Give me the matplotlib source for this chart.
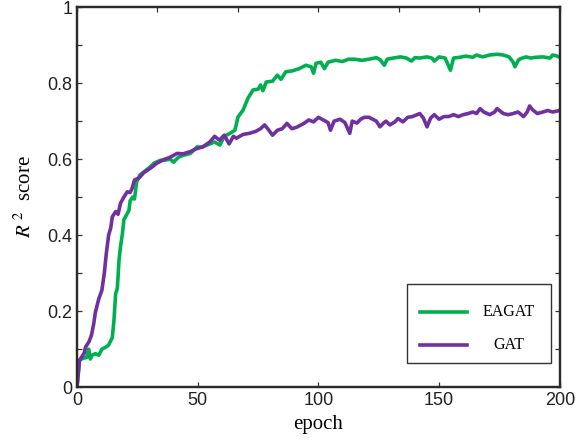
import numpy as np
import matplotlib
matplotlib.use('Agg')
import matplotlib.pyplot as plt
from matplotlib.patches import Rectangle
from matplotlib.lines import Line2D
from matplotlib.ticker import MultipleLocator

# epochs / R^2 values
gat_epoch = [0, 1, 2, 3, 3.5, 5, 6, 7, 7.6, 9, 10.3, 11.3, 12.1, 13.1, 14, 14.6, 16, 17, 18, 19.4,
             20.8, 22, 22.8, 23.8, 25.6, 27.6, 30.4, 33, 36, 38.6, 41.4, 44, 47, 49.7, 52, 55, 57, 59,
             61, 63, 64.8, 66, 68.8, 71.5, 74, 76, 77.7, 79, 81, 83, 85, 87, 89, 91, 94, 96, 98, 100,
             101.5, 104, 105, 106.5, 109, 111, 113, 114, 116, 117.5, 119, 121, 124, 125.5, 127, 128,
             129.6, 131.7, 133, 135, 137, 139, 140.5, 142, 143.5, 145, 146.5, 148, 150, 152, 154, 156,
             158, 160, 162, 164, 165.5, 167, 168.5, 171, 173, 174, 176.6, 178.6, 180.7, 182.7, 185,
             186.5, 187.5, 188.7, 190.7, 193, 195, 197, 200]
gat_r2 = [0.0, 0.07, 0.08, 0.09, 0.105, 0.12, 0.137, 0.17, 0.197, 0.232, 0.255, 0.30, 0.35, 0.40, 0.42,
          0.448, 0.462, 0.455, 0.484, 0.50, 0.514, 0.512, 0.523, 0.545, 0.55, 0.564, 0.576, 0.589, 0.599,
          0.605, 0.615, 0.614, 0.62, 0.628, 0.632, 0.645, 0.66, 0.65, 0.663, 0.64, 0.66, 0.655, 0.665,
          0.668, 0.673, 0.68, 0.69, 0.68, 0.663, 0.676, 0.68, 0.694, 0.68, 0.684, 0.694, 0.703, 0.698,
          0.71, 0.705, 0.696, 0.676, 0.70, 0.705, 0.696, 0.668, 0.70, 0.695, 0.705, 0.71, 0.71, 0.70,
          0.685, 0.695, 0.70, 0.69, 0.698, 0.707, 0.698, 0.71, 0.712, 0.716, 0.72, 0.708, 0.685, 0.708,
          0.717, 0.705, 0.712, 0.712, 0.717, 0.712, 0.717, 0.72, 0.724, 0.72, 0.733, 0.724, 0.717, 0.724,
          0.733, 0.72, 0.717, 0.72, 0.724, 0.712, 0.724, 0.74, 0.73, 0.72, 0.724, 0.728, 0.724, 0.728]

eagat_epoch = [0, 1, 2.5, 4, 4.8, 5.5, 6.2, 7.6, 9, 10.3, 11.8, 13, 14.6, 15.3, 16, 16.7, 17.4, 18, 18.8,
               19.4, 20.8, 21.5, 22, 23, 23.8, 24.7, 26, 27.6, 30.4, 31.8, 34.5, 36, 38.6, 40, 42, 44, 47,
               49.7, 52, 55, 57, 59.2, 61, 63.4, 65.4, 66.7, 68.8, 70.8, 72.9, 75, 76, 77, 78.4, 81, 83,
               84.5, 86.5, 89, 92, 94.8, 97, 98, 99, 101, 102.5, 104, 107, 110, 112.5, 115, 118, 121, 124,
               125.5, 127.3, 128.5, 131, 134, 136.5, 138.5, 140, 142, 145, 147, 148, 150, 152.5, 154.7,
               156, 158.6, 161, 164, 165.5, 168, 171, 174, 176.6, 179, 180.7, 181.4, 183, 184.5, 186, 188,
               190, 193, 196, 197, 198.5, 200]
eagat_r2 = [0.0, 0.071, 0.076, 0.078, 0.10, 0.074, 0.084, 0.088, 0.084, 0.10, 0.105, 0.11, 0.13, 0.176,
            0.246, 0.26, 0.334, 0.369, 0.404, 0.44, 0.457, 0.465, 0.49, 0.50, 0.495, 0.54, 0.558, 0.566,
            0.58, 0.589, 0.597, 0.597, 0.60, 0.592, 0.605, 0.61, 0.615, 0.632, 0.632, 0.64, 0.645, 0.637,
            0.66, 0.668, 0.676, 0.711, 0.729, 0.76, 0.782, 0.784, 0.795, 0.78, 0.803, 0.805, 0.821, 0.81,
            0.83, 0.832, 0.838, 0.847, 0.843, 0.826, 0.852, 0.855, 0.838, 0.855, 0.86, 0.857, 0.863, 0.863,
            0.86, 0.863, 0.867, 0.862, 0.847, 0.863, 0.866, 0.869, 0.866, 0.858, 0.867, 0.866, 0.869, 0.866,
            0.858, 0.869, 0.866, 0.834, 0.866, 0.868, 0.871, 0.868, 0.874, 0.869, 0.874, 0.876, 0.874,
            0.869, 0.855, 0.843, 0.862, 0.866, 0.869, 0.866, 0.868, 0.869, 0.866, 0.874, 0.872, 0.868]

series_names = ['EAGAT', 'GAT']
series_colors = ['#00b050', '#7030a0']
y_ticks = [0, 0.2, 0.4, 0.6, 0.8, 1]
y_ticklabels = ['0', '0.2', '0.4', '0.6', '0.8', '1']

plt.rcParams['mathtext.fontset'] = 'stix'
serif = 'Liberation Serif'
sans = 'Liberation Sans'

fig = plt.figure(figsize=(5.88, 4.45), dpi=100)
ax = fig.add_axes([0.131, 0.130, 0.821, 0.854])

ax.plot(eagat_epoch, eagat_r2, color=series_colors[0], lw=2.6, solid_joinstyle='round')
ax.plot(gat_epoch, gat_r2, color=series_colors[1], lw=2.6, solid_joinstyle='round')

ax.set_xlim(0, 200)
ax.set_ylim(0, 1)
ax.xaxis.set_major_locator(MultipleLocator(50))
ax.set_yticks(y_ticks, y_ticklabels)
ax.yaxis.set_minor_locator(MultipleLocator(0.1))
ax.tick_params(which='both', direction='in', length=3.5, width=0.9, color='#333333',
               left=True, right=True, top=False)
ax.tick_params(axis='both', labelsize=13, pad=3.5, labelcolor='#222222')
for t in ax.get_xticklabels() + ax.get_yticklabels():
    t.set_fontfamily(sans)

# top axis has its own (unlabelled) tick spacing in the original
top = ax.twiny()
top.set_xlim(0, 200)
top.xaxis.set_major_locator(MultipleLocator(200 / 6))
top.tick_params(axis='x', direction='in', length=3.5, width=0.9, color='#333333', labeltop=False)

for a in (ax, top):
    for s in a.spines.values():
        s.set_linewidth(1.6)
        s.set_color('#2b2b2b')

ax.set_xlabel('epoch', fontsize=15, fontfamily=serif, labelpad=4)
ax.set_ylabel(r'$R^{\ 2}$  score', fontsize=15, fontfamily=serif, labelpad=8)

# legend box drawn by hand: centred labels
ax.add_patch(Rectangle((0.683, 0.063), 0.298, 0.208, transform=ax.transAxes,
                       fill=False, ec='#333333', lw=1.0, zorder=5))
leg_y = [0.197, 0.111]
for name, c, yy in zip(series_names, series_colors, leg_y):
    ax.add_line(Line2D([0.710, 0.807], [yy, yy], transform=ax.transAxes, color=c, lw=2.6, zorder=6))
    ax.text(0.895, yy, name, transform=ax.transAxes, ha='center', va='center',
            fontsize=11.5, fontfamily=serif, zorder=6)

fig.savefig('out.png', dpi=100)
